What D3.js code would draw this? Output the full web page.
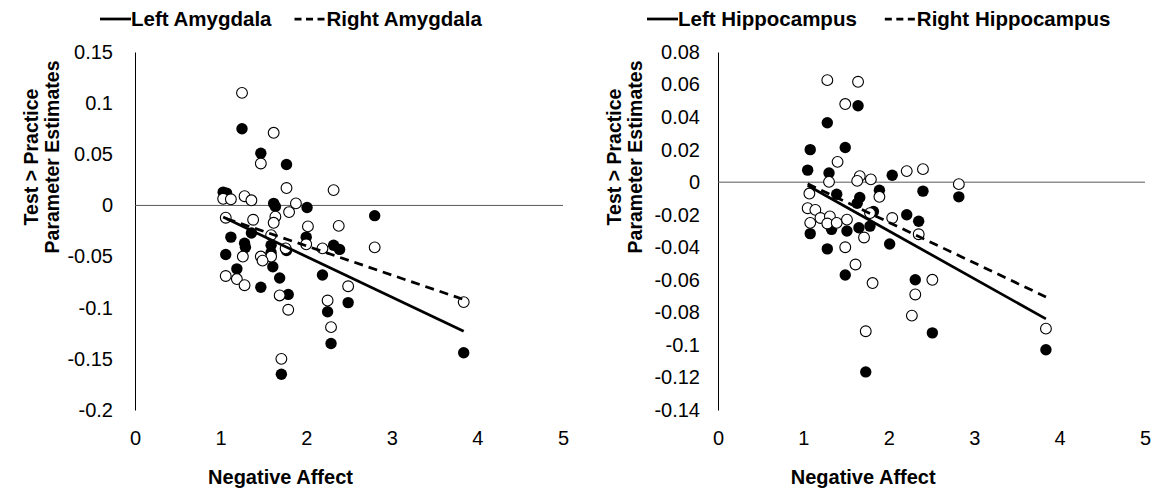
<!DOCTYPE html>
<html>
<head>
<meta charset="utf-8">
<script src="https://cdn.jsdelivr.net/npm/d3@7"></script>
<style>
  html, body { margin: 0; padding: 0; background: #fff; }
  svg { display: block; font-family: "Liberation Sans", Arial, sans-serif; }
</style>
</head>
<body>
<svg id="chart" width="1155" height="490"></svg>
<script>
// Negative Affect (x) vs Test > Practice parameter estimates (y)

// Amygdala panel
const amygLeft = [
  [1.25, 0.075], [1.47, 0.051], [1.77, 0.040], [1.03, 0.013], [1.07, 0.012],
  [1.62, 0.002], [1.64, -0.001], [2.01, -0.002], [2.80, -0.010], [1.36, -0.027],
  [1.12, -0.031], [2.00, -0.031], [1.28, -0.037], [1.29, -0.041], [1.06, -0.048],
  [1.59, -0.039], [1.59, -0.046], [1.77, -0.044], [2.32, -0.039], [2.39, -0.043],
  [1.19, -0.062], [1.47, -0.080], [1.61, -0.060], [1.69, -0.071], [2.19, -0.068],
  [2.49, -0.095], [1.79, -0.087], [2.25, -0.104], [2.29, -0.135], [1.71, -0.165],
  [3.84, -0.144]
];
const amygRight = [
  [1.25, 0.110], [1.62, 0.071], [1.47, 0.041], [1.77, 0.017], [2.32, 0.015],
  [1.03, 0.0065], [1.12, 0.006], [1.28, 0.009], [1.36, 0.005], [1.88, 0.002],
  [1.80, -0.0065], [1.64, -0.011], [1.06, -0.012], [1.38, -0.014], [1.62, -0.017],
  [2.02, -0.0205], [2.38, -0.020], [1.59, -0.029], [1.26, -0.050], [1.59, -0.050],
  [1.47, -0.050], [1.49, -0.054], [1.76, -0.042], [2.00, -0.038], [2.19, -0.042],
  [1.06, -0.069], [1.19, -0.072], [1.28, -0.078], [2.49, -0.079], [1.69, -0.088],
  [1.79, -0.102], [2.25, -0.093], [2.29, -0.119], [1.71, -0.150], [2.80, -0.041],
  [3.84, -0.0945]
];
const amygLeftFit = [[1.03, -0.0114], [3.84, -0.1229]];
const amygRightFit = [[1.07, -0.013], [3.84, -0.092]];

// Hippocampus panel
const hippoLeft = [
  [1.64, 0.047], [1.28, 0.0365], [1.08, 0.020], [1.49, 0.0213], [1.05, 0.0074],
  [1.30, 0.0057], [2.04, 0.0043], [2.40, -0.0055], [2.82, -0.009], [1.39, -0.0074],
  [1.66, -0.0094], [1.63, -0.013], [1.89, -0.005], [1.82, -0.018], [2.21, -0.020],
  [2.35, -0.024], [1.08, -0.0316], [1.33, -0.029], [1.51, -0.030], [1.65, -0.028],
  [1.78, -0.027], [2.01, -0.038], [1.28, -0.041], [1.49, -0.057], [2.31, -0.060],
  [2.51, -0.0926], [1.73, -0.1166], [3.84, -0.103]
];
const hippoRight = [
  [1.28, 0.0627], [1.64, 0.0617], [1.49, 0.048], [1.40, 0.0125], [1.30, 0.0002],
  [1.66, 0.0037], [1.63, 0.0008], [1.79, 0.0017], [2.21, 0.0068], [2.40, 0.008],
  [2.82, -0.0012], [1.07, -0.007], [1.89, -0.009], [1.05, -0.016], [1.14, -0.017],
  [1.20, -0.022], [1.31, -0.021], [1.08, -0.025], [1.28, -0.0254], [1.39, -0.025],
  [1.51, -0.023], [1.78, -0.019], [2.04, -0.022], [2.35, -0.032], [1.71, -0.034],
  [1.49, -0.040], [1.61, -0.0506], [1.81, -0.062], [2.51, -0.060], [2.31, -0.069],
  [2.27, -0.082], [1.73, -0.0916], [3.84, -0.090]
];
const hippoLeftFit = [[1.05, -0.002], [3.84, -0.084]];
const hippoRightFit = [[1.05, -0.001], [3.84, -0.0705]];

const xTicks = [0, 1, 2, 3, 4, 5];
const amygYTicks = [0.15, 0.1, 0.05, 0, -0.05, -0.1, -0.15, -0.2];
const amygYLabels = ["0.15", "0.1", "0.05", "0", "-0.05", "-0.1", "-0.15", "-0.2"];
const hippoYTicks = [0.08, 0.06, 0.04, 0.02, 0, -0.02, -0.04, -0.06, -0.08, -0.1, -0.12, -0.14];
const hippoYLabels = ["0.08", "0.06", "0.04", "0.02", "0", "-0.02", "-0.04", "-0.06", "-0.08", "-0.1", "-0.12", "-0.14"];

const legendAmyg = ["Left Amygdala", "Right Amygdala"];
const legendHippo = ["Left Hippocampus", "Right Hippocampus"];
const yTitle = ["Test > Practice", "Parameter Estimates"];
const xTitle = "Negative Affect";

const FONT = "Liberation Sans, Arial, sans-serif";
const svg = d3.select("#chart");

function panel(cfg) {
  const g = svg.append("g");
  const x = d3.scaleLinear().domain([0, 5]).range([cfg.x0, cfg.x1]);
  const y = d3.scaleLinear().domain(cfg.yDomain).range([410, 52]);

  // y axis
  const yAxis = d3.axisLeft(y).tickValues(cfg.yTicks).tickSize(0).tickPadding(cfg.yPad)
    .tickFormat((d, i) => cfg.yLabels[i]);
  const ya = g.append("g").attr("transform", `translate(${cfg.x0},0)`).call(yAxis);
  ya.select(".domain").attr("stroke", "#000").attr("stroke-width", 1);
  ya.selectAll("text").attr("font-size", 20).attr("fill", "#000").attr("font-family", FONT);

  // x axis labels
  const xAxis = d3.axisBottom(x).tickValues(xTicks).tickSize(0).tickPadding(21)
    .tickFormat(d3.format("d"));
  const xa = g.append("g").attr("transform", "translate(0,410)").call(xAxis);
  xa.select(".domain").remove();
  xa.selectAll("text").attr("font-size", 20).attr("fill", "#000").attr("font-family", FONT);

  // zero line
  g.append("line")
    .attr("x1", x(0)).attr("x2", x(5))
    .attr("y1", y(0)).attr("y2", y(0))
    .attr("stroke", "#595959").attr("stroke-width", 1);

  // points
  g.append("g").selectAll("circle").data(cfg.left).join("circle")
    .attr("cx", d => x(d[0])).attr("cy", d => y(d[1])).attr("r", 5.7)
    .attr("fill", "#000");
  g.append("g").selectAll("circle").data(cfg.right).join("circle")
    .attr("cx", d => x(d[0])).attr("cy", d => y(d[1])).attr("r", 5.4)
    .attr("fill", "#fff").attr("stroke", "#000").attr("stroke-width", 1.1);

  // trend lines
  const line = d3.line().x(d => x(d[0])).y(d => y(d[1]));
  g.append("path").datum(cfg.leftFit).attr("d", line)
    .attr("fill", "none").attr("stroke", "#000").attr("stroke-width", 2.75);
  g.append("path").datum(cfg.rightFit).attr("d", line)
    .attr("fill", "none").attr("stroke", "#000").attr("stroke-width", 2.75)
    .attr("stroke-dasharray", "9,6");

  // y title
  const tx = cfg.x0 - 97;
  const yt = g.append("text")
    .attr("transform", `translate(${tx},157) rotate(-90)`)
    .attr("text-anchor", "middle").attr("font-family", FONT)
    .attr("font-size", 19.5).attr("font-weight", "bold").attr("fill", "#000");
  yt.append("tspan").attr("x", 0).attr("dy", 0).text(yTitle[0]);
  yt.append("tspan").attr("x", 0).attr("dy", 21).text(yTitle[1]);

  // x title
  g.append("text")
    .attr("x", x(1.7)).attr("y", 484)
    .attr("text-anchor", "middle").attr("font-family", FONT)
    .attr("font-size", 20).attr("font-weight", "bold").attr("fill", "#000")
    .text(xTitle);

  // legend
  const lg = g.append("g").attr("transform", `translate(${cfg.legX},19)`);
  lg.append("line").attr("x1", 0).attr("x2", 31).attr("y1", 0).attr("y2", 0)
    .attr("stroke", "#000").attr("stroke-width", 2.75);
  const t1 = lg.append("text").attr("x", 31).attr("y", 7).attr("font-family", FONT)
    .attr("font-size", 20.5).attr("font-weight", "bold").attr("fill", "#000")
    .text(cfg.legend[0]);
  const w1 = t1.node().getComputedTextLength();
  const x2 = 31 + w1 + cfg.legGap;
  lg.append("line").attr("x1", x2).attr("x2", x2 + 31).attr("y1", 0).attr("y2", 0)
    .attr("stroke", "#000").attr("stroke-width", 2.75).attr("stroke-dasharray", "7,4.5");
  lg.append("text").attr("x", x2 + 32).attr("y", 7).attr("font-family", FONT)
    .attr("font-size", 20.5).attr("font-weight", "bold").attr("fill", "#000")
    .text(cfg.legend[1]);
}

panel({
  x0: 135, x1: 563, yDomain: [-0.2, 0.15], yTicks: amygYTicks, yLabels: amygYLabels, yPad: 22,
  left: amygLeft, right: amygRight, leftFit: amygLeftFit, rightFit: amygRightFit,
  legend: legendAmyg, legX: 100, legGap: 23
});
panel({
  x0: 718, x1: 1145, yDomain: [-0.14, 0.08], yTicks: hippoYTicks, yLabels: hippoYLabels, yPad: 18,
  left: hippoLeft, right: hippoRight, leftFit: hippoLeftFit, rightFit: hippoRightFit,
  legend: legendHippo, legX: 647, legGap: 28
});
</script>
</body>
</html>
